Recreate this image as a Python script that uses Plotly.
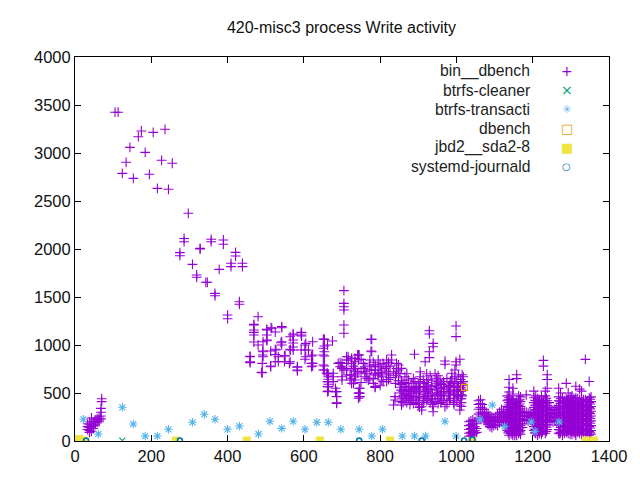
import plotly.graph_objects as go

# bin__dbench: columns of (x, list of y values)
early_x = [33, 38, 43, 48, 53, 58, 63, 68, 70, 105, 113, 124, 134, 144, 153, 166, 174,
           184, 195, 205, 216, 227, 236, 245, 255, 275, 286, 297, 308, 319, 328, 343,
           347, 357, 367, 378, 389, 400, 409, 421, 431, 439]
early_y = [[180, 150, 120], [200, 170, 140, 110, 90], [240, 180, 150, 130, 100],
           [200, 160, 130], [220, 190, 170], [230, 200], [250, 220, 200],
           [260, 230, 300, 340], [440, 410], [3425], [3425], [2788], [2903], [3059],
           [2736], [3170], [3229], [3007], [2778], [3215], [2632], [2924], [3247],
           [2622], [2893], [1962, 1930], [2110, 2076], [2372], [1840], [1729, 1705],
           [2007, 2000], [1653], [1653], [2101, 2076], [1538, 1513], [1788],
           [2094, 2049], [1312, 1274], [1851, 1816], [1965, 1927], [1451, 1424],
           [1851, 1816]]

mid_x = [459, 469, 480, 489, 491, 492, 493, 503, 513, 514, 516, 525, 527, 533, 540,
         542, 549, 551, 562, 564, 572, 583, 593, 594, 603, 605, 612, 620, 623, 651,
         654, 660, 662, 664, 675, 677, 683, 686, 690, 695]
mid_y = [[882, 878, 826, 816], [1208, 1156, 1104, 1215, 1132, 1031], [1295, 1000],
         [715], [809, 711], [937, 896], [1034, 930, 878], [1156, 1104, 1052, 1163, 1045],
         [774, 937, 781], [1180], [1174], [1135, 955, 900, 826], [948], [878, 826],
         [1024], [1191, 1034, 1000, 1180], [890, 826], [885], [809],
         [1086, 948, 826, 955], [1115, 1021, 979, 1104, 1052, 948], [774, 740, 768, 732],
         [1132, 1104, 948], [1128, 1094], [1000, 948, 851], [1017, 878], [948],
         [885, 809, 774], [1034, 896, 809, 781], [1062, 966, 896, 792, 740],
         [1059, 990, 930, 885, 781, 740], [705], [1000, 705, 618, 566, 514],
         [670, 618, 566, 521, 688, 643, 591], [1042], [670, 618, 705], [549, 514],
         [514, 462, 399, 392], [809], [816, 774]]

busy_x = [700, 705, 712, 716, 721, 725, 730, 734, 741, 743, 745, 747, 750, 756, 760,
          765, 769, 773, 776, 778, 782, 787, 795, 800, 804, 808, 813, 817, 822, 826,
          830, 835, 839, 840, 843, 848, 852, 856, 860, 865, 870, 874, 878, 883, 887,
          890, 891, 896, 900, 905, 909, 913, 918, 922, 926, 929, 931, 935, 939, 944,
          948, 952, 957, 961, 966, 970, 975, 979, 984, 988, 992, 996, 999, 1001, 1005,
          1009, 1013, 1015, 1018]
busy_y = [[809, 774, 757, 670, 635], [1566, 1434, 1399, 1365, 1208, 1122, 740],
          [878, 844, 740, 688, 757], [878, 844], [635, 688],
          [861, 809, 653, 601, 688], [780, 600], [861, 757, 722, 670, 740, 688, 635, 826],
          [896, 705], [896, 844, 497, 445], [896, 549, 503, 462], [549, 497, 462],
          [720, 610, 850], [809, 757], [722, 670, 774], [653, 700], [635],
          [844, 792, 740, 653], [1059, 937], [1059, 930, 740], [820, 650, 600],
          [792, 740, 688, 559, 774, 705, 566], [774, 705, 844, 688], [800, 710, 580],
          [670, 740, 635], [809, 618], [757], [722, 618, 844, 774, 688], [820, 700, 640],
          [780, 660], [896, 844], [722, 375], [462, 427], [680, 600], [809, 757, 705],
          [792, 740, 628], [700, 560, 500], [757, 628, 445, 375], [610, 520, 470, 400],
          [670, 566, 497, 427], [700, 600, 480, 400], [635, 531, 445], [560, 470, 380],
          [601, 497, 427], [650, 540, 460, 390], [903], [618, 514], [566, 462],
          [600, 500, 420, 380], [722, 670, 618, 531], [357, 323], [640, 560, 440, 400],
          [826, 566, 514, 462], [700, 610, 540, 420], [635, 583, 497],
          [1149, 1115, 930, 868], [680, 540, 470, 400], [635, 566, 427],
          [1017, 982, 357, 305], [700, 580, 480, 410], [653, 601, 531],
          [680, 560, 470, 390], [635, 549, 445], [590, 500, 420], [618, 514, 427],
          [357, 833, 799], [650, 540, 420, 380], [566, 479], [620, 520, 440],
          [705, 653, 601], [560, 480, 400], [740, 670, 618, 531, 445],
          [1198, 1087, 826, 792], [620, 520, 420], [688, 566, 462], [851, 375, 323],
          [600, 560, 520, 480, 440, 400, 360], [690, 580, 470], [670, 618, 531]]

# extra samples in the thickest part of the 850-1020 band
busy2_x = [855, 868, 880, 894, 903, 915, 925, 937, 950, 959, 968, 982, 994, 1003, 1011]
busy2_y = [[590, 530, 410], [540, 450], [520, 420], [550, 440, 400], [560, 460, 350],
           [600, 480, 420], [520, 440], [500, 440, 380], [620, 500, 440],
           [600, 480, 400], [560, 470], [580, 500, 420], [600, 500, 380], [560, 480],
           [640, 540, 440]]

late_x = [1033, 1038, 1043, 1048, 1053, 1058, 1063, 1068, 1073, 1078, 1083, 1088, 1093,
          1098, 1103, 1108, 1113, 1118, 1123, 1128, 1133, 1138, 1143, 1148, 1153, 1158,
          1163, 1168, 1173, 1178, 1183, 1188, 1193, 1198, 1203, 1208, 1213, 1218, 1223,
          1228, 1233, 1238, 1243, 1248, 1253, 1258, 1263, 1268, 1273, 1278, 1283, 1288,
          1293, 1298, 1303, 1308, 1313, 1318, 1323, 1328, 1333, 1338, 1343, 1348, 1353]
late_y = [[200, 160, 120, 80, 50], [210, 170, 130, 90, 60], [220, 180, 140, 100, 70],
          [200, 150, 110, 80], [180, 130, 90], [420, 380, 330, 280, 240],
          [430, 390, 350, 300, 260, 230], [380, 330, 290, 250], [330, 290, 250, 220],
          [300, 260, 220, 190], [280, 240, 200, 170], [260, 220, 180, 150],
          [250, 210, 170, 140], [240, 200, 160], [250, 210, 170], [280, 240, 200, 160],
          [300, 260, 220, 190], [330, 290, 250, 210], [310, 270, 230, 190],
          [290, 250, 210, 170], [470, 420, 360, 310, 260, 210, 160, 110],
          [640, 560, 510, 450, 400, 350, 300, 250, 200, 150, 100, 60],
          [430, 380, 330, 280, 230, 180, 130, 80],
          [550, 490, 440, 390, 340, 290, 240, 190, 140, 90, 60],
          [400, 350, 300, 250, 200, 150, 100, 60],
          [690, 650, 400, 350, 300, 250, 200, 150, 100, 60],
          [470, 420, 370, 320, 270, 220, 170, 120, 80],
          [460, 410, 360, 310, 260, 210, 160, 110, 70], [300, 260, 220, 180, 140],
          [300, 260, 220], [480, 300, 260, 220], [290, 250, 210], [300, 260, 220],
          [280, 240, 200], [520, 450, 400, 350, 300, 250, 200, 150, 110],
          [470, 420, 370, 320, 270, 220, 170, 120, 80],
          [440, 390, 340, 290, 240, 190, 140, 90, 60],
          [430, 380, 330, 280, 230, 180, 130, 80],
          [460, 410, 360, 310, 260, 210, 160, 110, 70],
          [840, 780, 420, 370, 320, 270, 220, 170, 120],
          [520, 470, 420, 370, 320, 270, 220, 170, 120, 80],
          [690, 640, 550, 420, 370, 320, 270, 220, 170, 120],
          [400, 350, 300, 250, 200], [330, 290, 250, 210], [320, 280, 240, 200],
          [330, 290, 250, 210], [350, 300, 250, 200],
          [550, 460, 420, 370, 320, 270, 220, 170, 120, 80],
          [500, 440, 390, 340, 290, 240, 190, 140, 90],
          [450, 400, 350, 300, 250, 200, 150, 100, 60],
          [420, 370, 320, 270, 220, 170, 120, 80],
          [600, 440, 390, 340, 290, 240, 190, 140, 90],
          [500, 430, 380, 330, 280, 230, 180, 130, 80],
          [460, 410, 360, 310, 260, 210, 160, 110, 70],
          [470, 420, 370, 320, 270, 220, 170, 120, 70],
          [440, 390, 340, 290, 240, 190, 140, 90],
          [570, 450, 400, 350, 300, 250, 200, 150, 100, 60],
          [440, 390, 340, 290, 240, 190, 140, 90],
          [540, 430, 380, 330, 280, 230, 180, 130, 80],
          [520, 420, 370, 320, 270, 220, 170, 120, 70],
          [430, 380, 330, 280, 230, 180, 130, 80],
          [850, 430, 380, 330, 280, 230, 180, 130, 80],
          [420, 370, 320, 270, 220, 170, 120, 70],
          [620, 450, 400, 350, 300, 250, 200, 150, 100, 60],
          [460, 410, 360, 310, 260, 210, 160, 110, 70]]

# extra samples where the late block is solid colour
late2_x = [1136, 1146, 1156, 1166, 1206, 1216, 1226, 1236, 1271, 1281, 1291, 1301, 1311,
           1321, 1331, 1341, 1351]
late2_y = [[430, 375, 325, 275, 225, 175, 125, 85], [415, 365, 315, 265, 215, 165, 115, 75],
           [375, 325, 275, 225, 175, 125, 85], [435, 385, 335, 285, 235, 185, 135, 95],
           [425, 375, 325, 275, 225, 175, 125, 85], [405, 355, 305, 255, 205, 155, 105],
           [395, 345, 295, 245, 195, 145, 95], [445, 395, 345, 295, 245, 195, 145, 100],
           [415, 365, 315, 265, 215, 165, 115, 75], [395, 345, 295, 245, 195, 145, 105],
           [405, 355, 305, 255, 205, 155, 105], [445, 395, 345, 295, 245, 195, 145, 95],
           [425, 375, 325, 275, 225, 175, 125, 80], [405, 355, 305, 255, 205, 155, 105],
           [405, 355, 305, 255, 205, 155, 105], [405, 355, 305, 255, 205, 155, 105],
           [435, 385, 335, 285, 235, 185, 135, 85]]

# the other processes
cleaner_x = [124]
cleaner_y = [5]

transacti_x = [22, 61, 124, 153, 184, 216, 245, 308, 339, 367, 400, 431, 481, 511, 542,
               572, 603, 634, 664, 697, 745, 778, 806, 858, 890, 919, 970, 999, 1062,
               1094, 1126, 1196, 1206, 1269]
transacti_y = [226, 73, 351, 177, 52, 52, 122, 195, 278, 226, 122, 156, 73, 205, 132,
               205, 122, 195, 195, 122, 122, 52, 122, 52, 52, 52, 205, 52, 226, 375, 152,
               198, 102, 198]

dbench_x = [1021]
dbench_y = [559]

jbd2_x = [10, 22, 264, 450, 642, 826, 1042, 1339, 1361]
jbd2_y = [20, 5, 5, 5, 5, 5, 0, 5, 5]

journald_x = [29, 275, 745, 909, 1020, 1042]
journald_y = [5, 5, 5, 5, 5, 15]


def expand(xs, ys):
    out_x, out_y = [], []
    for x, col in zip(xs, ys):
        for y in col:
            out_x.append(x)
            out_y.append(y)
    return out_x, out_y


bin_x, bin_y = [], []
for xs, ys in [(early_x, early_y), (mid_x, mid_y), (busy_x, busy_y),
               (busy2_x, busy2_y), (late_x, late_y), (late2_x, late2_y)]:
    a, b = expand(xs, ys)
    bin_x += a
    bin_y += b

series = [
    ("bin__dbench", bin_x, bin_y, "#9400d3", "cross-thin-open", 7, "+", 14),
    ("btrfs-cleaner", cleaner_x, cleaner_y, "#009e73", "x-thin-open", 6, "×", 14),
    ("btrfs-transacti", transacti_x, transacti_y, "#56b4e9", "asterisk-open", 7, "✳", 11),
    ("dbench", dbench_x, dbench_y, "#e69f00", "square-open", 6, "□", 13),
    ("jbd2__sda2-8", jbd2_x, jbd2_y, "#f0e442", "square", 7, "■", 13),
    ("systemd-journald", journald_x, journald_y, "#0072b2", "circle-open", 5, "○", 10),
]

fig = go.Figure()
for name, xs, ys, color, symbol, size, _, _ in series:
    fig.add_trace(go.Scatter(
        x=xs, y=ys, mode="markers", name=name, showlegend=False,
        marker=dict(symbol=symbol, size=size, color=color,
                    line=dict(color=color, width=1.6 if "circle" in symbol else 1.1)),
    ))

# gnuplot style key: right aligned label, symbol on the right
for i, (name, _, _, color, _, _, glyph, gsize) in enumerate(series):
    ypos = 0.9635 - i * 0.0495
    fig.add_annotation(x=0.856, y=ypos, xref="paper", yref="paper", text=name,
                       showarrow=False, xanchor="right", yanchor="middle",
                       font=dict(size=15.7, color="#222222"))
    fig.add_annotation(x=0.921, y=ypos, xref="paper", yref="paper", text=glyph,
                       showarrow=False, xanchor="center", yanchor="middle",
                       font=dict(size=gsize, color=color, family="DejaVu Sans"))

axis_style = dict(showline=True, linecolor="black", linewidth=1, mirror="ticks",
                  ticks="inside", ticklen=6, tickcolor="black", showgrid=False,
                  zeroline=False, tickfont=dict(size=16.5, color="#111111"))

fig.update_xaxes(range=[0, 1400], dtick=200, **axis_style)
fig.update_yaxes(range=[0, 4000], dtick=500, **axis_style)

# the page adds an 8px body margin, so the margins are trimmed to match
fig.update_layout(
    width=640, height=480,
    margin=dict(l=67, r=39, t=49, b=47),
    paper_bgcolor="white", plot_bgcolor="white",
    font=dict(family="Liberation Sans, Arial, sans-serif"),
    title=dict(text="420-misc3 process Write activity", x=0.521, xanchor="center",
               y=0.96, yanchor="middle", font=dict(size=16, color="#111111")),
)

fig.write_html("out.html")
